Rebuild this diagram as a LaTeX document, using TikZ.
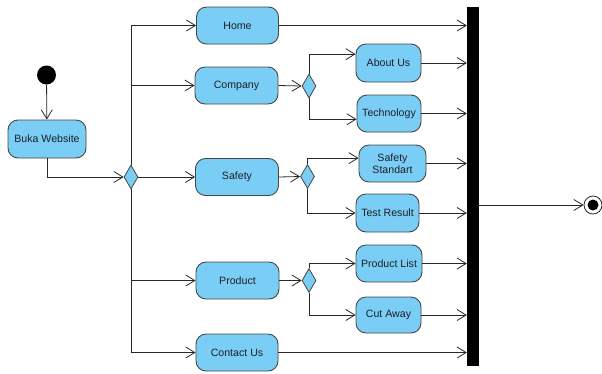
\documentclass[tikz,border=0pt]{standalone}
\usepackage{fontspec}
\setmainfont{Liberation Sans}
\usetikzlibrary{shapes.geometric,arrows.meta}
\definecolor{actfill}{RGB}{122,206,245}
\definecolor{actline}{RGB}{70,70,70}
\definecolor{conn}{RGB}{40,40,40}
\definecolor{txt}{RGB}{30,30,40}
\tikzset{
  act/.style={draw=actline, line width=0.9pt, fill=actfill, rounded corners=10pt, inner sep=1pt, align=center, text=txt, font=\fontsize{10.6}{12.5}\selectfont},
  dec/.style={draw=actline, line width=0.8pt, fill=actfill, diamond, minimum width=14pt, minimum height=24pt, inner sep=0pt, aspect=0.58},
  arr/.style={draw=conn, line width=0.8pt, -{Straight Barb[length=9pt,width=11pt,line width=0.8pt]}},
  ln/.style={draw=conn, line width=0.8pt}
}
\begin{document}
\begin{tikzpicture}[x=1pt,y=-1pt]
\useasboundingbox (0,0) rectangle (602,373);
% initial
\node[circle, fill=black, minimum size=19pt, inner sep=0] (init) at (46.5,75) {};
\node[act, minimum width=78pt, minimum height=38pt] (buka) at (47,139) {Buka Website};
\node[dec] (d0) at (131,177) {};
% first level
\node[act, minimum width=82pt, minimum height=37pt] (home) at (237.5,25.5) {Home};
\node[act, minimum width=83pt, minimum height=37pt] (company) at (236.5,85.5) {Company};
\node[act, minimum width=83pt, minimum height=37pt] (safety) at (237,177) {Safety};
\node[act, minimum width=83pt, minimum height=37pt] (product) at (237.5,280.5) {Product};
\node[act, minimum width=82pt, minimum height=37pt] (contact) at (237,352.5) {Contact Us};
% decisions
\node[dec] (dc) at (309,86) {};
\node[dec] (ds) at (307.5,176.5) {};
\node[dec] (dp) at (309,280.5) {};
% second level
\node[act, minimum width=65pt, minimum height=38pt] (about) at (388.5,63) {About Us};
\node[act, minimum width=64pt, minimum height=37pt] (tech) at (389,113.5) {Technology};
\node[act, minimum width=67pt, minimum height=37pt] (std) at (392.5,163.5) {Safety\\[-1pt]Standart};
\node[act, minimum width=63pt, minimum height=38pt] (test) at (387.5,213) {Test Result};
\node[act, minimum width=66pt, minimum height=37pt] (plist) at (389,263.5) {Product List};
\node[act, minimum width=65pt, minimum height=36pt] (cut) at (388.5,315) {Cut Away};
% join bar and final
\node[fill=black, minimum width=12pt, minimum height=359pt, inner sep=0] (bar) at (473,186.5) {};
\node[circle, draw=conn, line width=0.8pt, fill=white, minimum size=18pt, inner sep=0] (final) at (593,205) {};
\fill (final.center) circle (5.5pt);
% connectors
\draw[arr] (init) -- (buka);
\draw[arr] (buka.south) |- (d0.west);
\draw[arr] (d0.north) |- (home.west);
\draw[arr] (d0.north) |- (company.west);
\draw[arr] (d0.east) -- (safety.west);
\draw[arr] (d0.south) |- (product.west);
\draw[arr] (d0.south) |- (contact.west);
\draw[arr] (company.east) -- (dc.west);
\draw[arr] (safety.east) -- (ds.west);
\draw[arr] (product.east) -- (dp.west);
\draw[arr] (dc.north) |- (about.165);
\draw[arr] (dc.south) |- (tech.190);
\draw[arr] (ds.north) |- (std.171);
\draw[arr] (ds.south) |- (test.west);
\draw[arr] (dp.north) |- (plist.west);
\draw[arr] (dp.south) |- (cut.west);
\draw[arr] (home.east) -- (home.east -| bar.west);
\draw[arr] (about.east) -- (about.east -| bar.west);
\draw[arr] (tech.east) -- (tech.east -| bar.west);
\draw[arr] (std.east) -- (std.east -| bar.west);
\draw[arr] (test.east) -- (test.east -| bar.west);
\draw[arr] (plist.east) -- (plist.east -| bar.west);
\draw[arr] (cut.east) -- (cut.east -| bar.west);
\draw[arr] (contact.east) -- (contact.east -| bar.west);
\draw[arr] (bar.east |- final.west) -- (final.west);
\end{tikzpicture}
\end{document}
